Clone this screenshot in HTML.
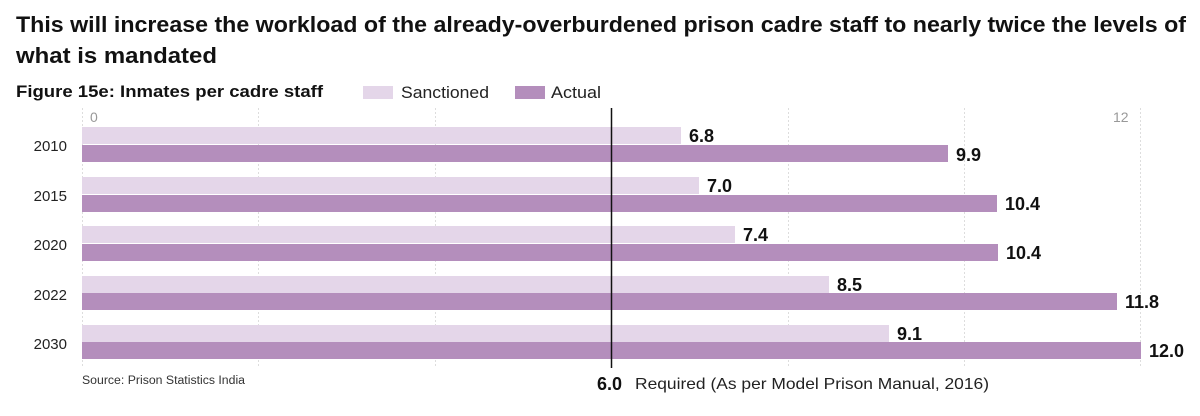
<!DOCTYPE html>
<html><head><meta charset="utf-8"><style>
body{margin:0;background:#fff;font-family:"Liberation Sans",sans-serif;}
</style></head><body>
<svg width="1200" height="411" xmlns="http://www.w3.org/2000/svg" font-family="Liberation Sans, sans-serif">
<text x="16" y="32" font-size="22.5" font-weight="bold" fill="#111" textLength="1170" lengthAdjust="spacingAndGlyphs">This will increase the workload of the already-overburdened prison cadre staff to nearly twice the levels of</text>
<text x="16" y="63" font-size="22.5" font-weight="bold" fill="#111" textLength="201" lengthAdjust="spacingAndGlyphs">what is mandated</text>
<text x="16" y="97" font-size="16.5" font-weight="bold" fill="#111" textLength="307" lengthAdjust="spacingAndGlyphs">Figure 15e: Inmates per cadre staff</text>
<rect x="363" y="86" width="30" height="13" fill="#e4d6e9"/>
<text x="401" y="98" font-size="16.5" fill="#222" textLength="88" lengthAdjust="spacingAndGlyphs">Sanctioned</text>
<rect x="515" y="86" width="30" height="13" fill="#b48ebc"/>
<text x="551" y="98" font-size="16.5" fill="#222" textLength="50" lengthAdjust="spacingAndGlyphs">Actual</text>
<text x="90" y="122" font-size="14" fill="#999">0</text>
<text x="1113" y="122" font-size="14" fill="#999">12</text>
<g stroke="#ddd" stroke-dasharray="2,2" stroke-width="1">
<line x1="82.5" y1="108" x2="82.5" y2="366"/><line x1="258.5" y1="108" x2="258.5" y2="366"/>
<line x1="435.5" y1="108" x2="435.5" y2="366"/><line x1="788.5" y1="108" x2="788.5" y2="366"/>
<line x1="964.5" y1="108" x2="964.5" y2="366"/><line x1="1140.5" y1="108" x2="1140.5" y2="366"/>
</g>
<g font-size="15" fill="#222" text-anchor="end">
<text x="67" y="151">2010</text><text x="67" y="201">2015</text><text x="67" y="250">2020</text><text x="67" y="300">2022</text><text x="67" y="349">2030</text>
</g>
<g fill="#e4d6e9">
<rect x="82" y="127" width="599" height="17"/>
<rect x="82" y="177" width="617" height="17"/>
<rect x="82" y="226" width="653" height="17"/>
<rect x="82" y="276" width="747" height="17"/>
<rect x="82" y="325" width="807" height="17"/>
</g>
<g fill="#b48ebc">
<rect x="82" y="145" width="866" height="17"/>
<rect x="82" y="195" width="915" height="17"/>
<rect x="82" y="244" width="916" height="17"/>
<rect x="82" y="293" width="1035" height="17"/>
<rect x="82" y="342" width="1059" height="17"/>
</g>
<g font-size="18" font-weight="bold" fill="#111">
<text x="689" y="142">6.8</text><text x="956" y="161">9.9</text>
<text x="707" y="192">7.0</text><text x="1005" y="210">10.4</text>
<text x="743" y="241">7.4</text><text x="1006" y="259">10.4</text>
<text x="837" y="291">8.5</text><text x="1125" y="308">11.8</text>
<text x="897" y="340">9.1</text><text x="1149" y="357">12.0</text>
</g>
<line x1="611.5" y1="108" x2="611.5" y2="368" stroke="#111" stroke-width="1.5"/>
<text x="82" y="384" font-size="11.5" fill="#333" textLength="163" lengthAdjust="spacingAndGlyphs">Source: Prison Statistics India</text>
<text x="597" y="390" font-size="18" font-weight="bold" fill="#111">6.0</text>
<text x="635" y="389" font-size="16" fill="#222" textLength="354" lengthAdjust="spacingAndGlyphs">Required (As per Model Prison Manual, 2016)</text>
</svg>
</body></html>
